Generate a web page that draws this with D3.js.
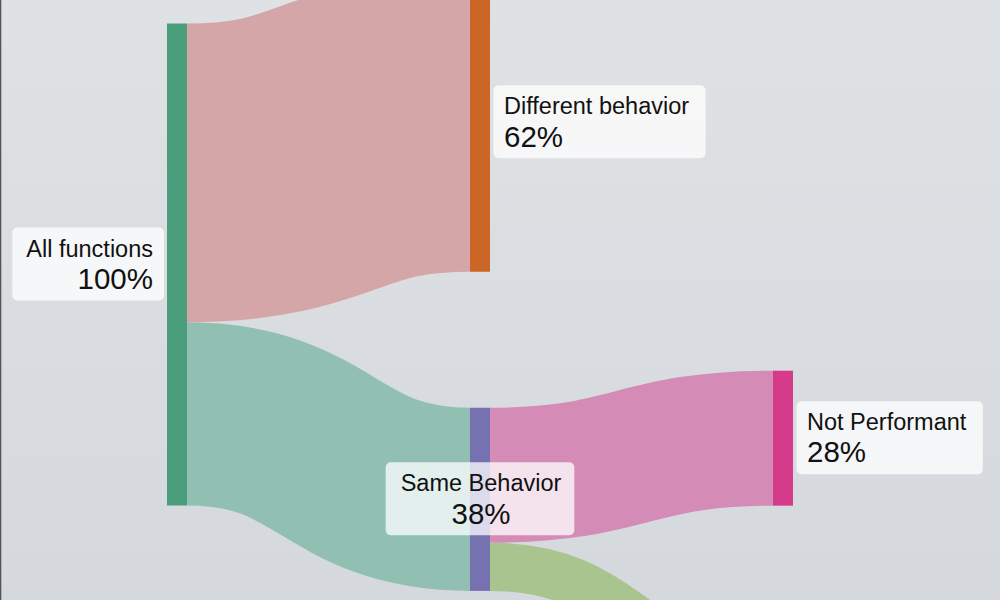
<!DOCTYPE html>
<html>
<head>
<meta charset="utf-8">
<script src="https://cdn.jsdelivr.net/npm/d3@7"></script>
<style>
  html, body { margin: 0; padding: 0; background: #dde0e3; }
  svg { display: block; }
  text { font-family: "Liberation Sans", Arial, Helvetica, sans-serif; fill: #111; }
</style>
</head>
<body>
<svg id="chart" width="1000" height="600"></svg>
<script>
// ---- data ----
const nodeNames   = ["All functions", "Different behavior", "Same Behavior", "Not Performant", "Performant"];
const nodeValues  = [100, 62, 38, 28, 10];
const nodeColumns = [0, 1, 1, 2, 2];
const linkSources = [0, 0, 2, 2];
const linkTargets = [1, 2, 3, 4];
const linkValues  = [62, 38, 28, 10];

// ---- styles ----
const nodeColorRange = ["#4b9e7b", "#cc6627", "#7671b1", "#d63a8a", "#7aa855"];
const linkColorRange = ["#d5a6a8", "#91c0b2", "#d48cb6", "#aac48f"];
const labelAnchors   = ["end", "start", "middle", "start", "start"];

const W = 1000, H = 600;
const svg = d3.select("#chart");

// background gradient
const defs = svg.append("defs");
const grad = defs.append("linearGradient").attr("id", "bg").attr("x1", 0).attr("y1", 0).attr("x2", 0).attr("y2", 1);
grad.append("stop").attr("offset", "0%").attr("stop-color", "#dfe2e5");
grad.append("stop").attr("offset", "100%").attr("stop-color", "#d5d8dc");
svg.append("rect").attr("width", W).attr("height", H).attr("fill", "url(#bg)");
svg.append("rect").attr("x", 0).attr("y", 0).attr("width", 1.3).attr("height", H).attr("fill", "#555");

// ---- layout ----
const nodeWidth = 20;
const nodePadding = 136;
const xCol = d3.scaleLinear().domain([0, 2]).range([167, 773]);
const hScale = d3.scaleLinear().domain([0, 100]).range([0, 482]);
const colTop = [23.5, -27.1, 370.7];

const nodeColor = d3.scaleOrdinal().domain(nodeNames).range(nodeColorRange);
const linkColor = d3.scaleOrdinal().domain(d3.range(linkValues.length)).range(linkColorRange);

const nodes = nodeNames.map((name, i) => ({ i, name, value: nodeValues[i], col: nodeColumns[i] }));
const cursor = {};
nodes.forEach(n => {
  if (cursor[n.col] === undefined) cursor[n.col] = colTop[n.col];
  n.x0 = xCol(n.col);
  n.x1 = n.x0 + nodeWidth;
  n.y0 = cursor[n.col];
  n.y1 = n.y0 + hScale(n.value);
  cursor[n.col] = n.y1 + nodePadding;
  n.outY = n.y0;
  n.inY = n.y0;
});

const links = linkValues.map((v, i) => {
  const s = nodes[linkSources[i]], t = nodes[linkTargets[i]];
  const w = hScale(v);
  const l = { i, source: s, target: t, value: v, width: w };
  l.y0 = s.outY + w / 2; s.outY += w;
  l.y1 = t.inY + w / 2; t.inY += w;
  return l;
});

const linkGen = d3.linkHorizontal();

svg.append("g").selectAll("path")
  .data(links)
  .join("path")
  .attr("d", l => linkGen({ source: [l.source.x1, l.y0], target: [l.target.x0, l.y1] }))
  .attr("fill", "none")
  .attr("stroke", l => linkColor(l.i))
  .attr("stroke-width", l => l.width);

svg.append("g").selectAll("rect")
  .data(nodes)
  .join("rect")
  .attr("x", n => n.x0)
  .attr("y", n => n.y0)
  .attr("width", n => n.x1 - n.x0)
  .attr("height", n => n.y1 - n.y0)
  .attr("fill", n => nodeColor(n.name));

// ---- labels (only for nodes whose label box lies inside the view) ----
const fmt = v => d3.format("d")(v) + "%";
const labelG = svg.append("g");
nodes.forEach(n => {
  const cy = (n.y0 + n.y1) / 2;
  if (cy - 37 > H || cy + 36 < 0) return;
  const anchor = labelAnchors[n.i];
  let tx;
  if (anchor === "end") tx = n.x0 - 14;
  else if (anchor === "start") tx = n.x1 + 14;
  else tx = (n.x0 + n.x1) / 2 + 1;
  const g = labelG.append("g");
  const box = g.append("rect");
  const t1 = g.append("text").attr("x", tx).attr("y", cy - 8)
    .attr("text-anchor", anchor).style("font-size", "23.5px").text(n.name);
  const t2 = g.append("text").attr("x", tx).attr("y", cy + 24.3)
    .attr("text-anchor", anchor).style("font-size", "29.5px").text(fmt(n.value));
  const tw = Math.max(t1.node().getComputedTextLength(), t2.node().getComputedTextLength());
  let bx;
  if (anchor === "end") bx = tx + 11 - (tw + 25);
  else if (anchor === "start") bx = tx - 10.5;
  else bx = tx - tw / 2 - 15;
  box.attr("x", bx).attr("y", cy - 37).attr("width", tw + (anchor === "start" ? 27 : (anchor === "end" ? 25 : 28)))
    .attr("height", 73).attr("rx", 5).attr("ry", 5)
    .attr("fill", "#ffffff").attr("fill-opacity", 0.75);
});
</script>
</body>
</html>
